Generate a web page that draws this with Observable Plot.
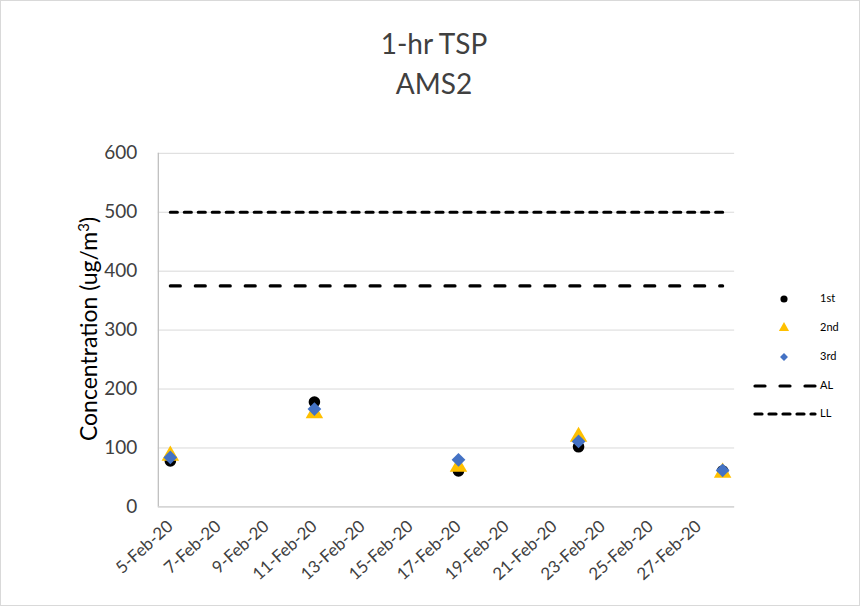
<!DOCTYPE html>
<html>
<head>
<meta charset="utf-8">
<script src="https://cdn.jsdelivr.net/npm/d3@7"></script>
<script src="https://cdn.jsdelivr.net/npm/@observablehq/plot@0.6"></script>
<style>
  html, body { margin: 0; padding: 0; background: #fff; }
  #wrap { position: relative; width: 858px; height: 604px; border: 1px solid #d9d9d9; font-family: Lato, "Open Sans", sans-serif; color: #595959; overflow: hidden; }
  #chart { position: absolute; left: -1px; top: -1px; }
  .title { position: absolute; left: 0; width: 866px; text-align: center; font-size: 28px; color: #404040; line-height: 1; }
  #ylab { position: absolute; left: 87px; top: 328px; transform: translate(-50%, -50%) rotate(-90deg); white-space: nowrap; font-size: 23px; color: #000; }
  #legend { position: absolute; left: 748px; top: 287px; font-size: 11px; color: #000; }
  #legend .row { position: absolute; left: 0; height: 20px; width: 110px; }
  #legend svg { position: absolute; left: 0; top: 0; }
  #legend span { position: absolute; left: 71px; top: 3px; }
</style>
</head>
<body>
<div id="wrap">
  <div id="chart"></div>
  <div class="title" style="top:28px">1-hr TSP</div>
  <div class="title" style="top:68px">AMS2</div>
  <div id="ylab">Concentration (ug/m<sup style="font-size:15px">3</sup>)</div>
  <div id="legend"></div>
</div>
<script>
// ---- data ----
const dates = ["2020-02-05", "2020-02-11", "2020-02-17", "2020-02-22", "2020-02-28"];
const first = [78, 178, 61, 102, 61];
const second = [87, 159, 68, 119, 58];
const third = [84, 166, 80, 111, 62];
const actionLevel = 375;
const limitLevel = 500;
const tickDates = ["2020-02-05","2020-02-07","2020-02-09","2020-02-11","2020-02-13","2020-02-15","2020-02-17","2020-02-19","2020-02-21","2020-02-23","2020-02-25","2020-02-27"];
const yTicks = [0, 100, 200, 300, 400, 500, 600];
const seriesNames = ["1st", "2nd", "3rd", "AL", "LL"];

const parse = s => new Date(s + "T00:00:00Z");
const mk = vals => dates.map((d, i) => ({date: parse(d), value: vals[i]}));
const s1 = mk(first), s2 = mk(second), s3 = mk(third);
const lineData = v => [{date: parse(dates[0]), value: v}, {date: parse(dates[dates.length - 1]), value: v}];
const months = ["Jan","Feb","Mar","Apr","May","Jun","Jul","Aug","Sep","Oct","Nov","Dec"];
const fmt = d => `${d.getUTCDate()}-${months[d.getUTCMonth()]}-${String(d.getUTCFullYear()).slice(2)}`;

const x0 = new Date(Date.UTC(2020, 1, 4, 12));
const x1 = new Date(Date.UTC(2020, 1, 28, 12));

const plot = Plot.plot({
  width: 860,
  height: 606,
  marginLeft: 158,
  marginRight: 125,
  marginTop: 153,
  marginBottom: 99,
  style: {fontFamily: "Lato, 'Open Sans', sans-serif", background: "transparent"},
  x: {type: "utc", domain: [x0, x1]},
  y: {domain: [0, 600]},
  marks: [
    Plot.gridY(yTicks, {stroke: "#d9d9d9", strokeOpacity: 1, strokeWidth: 1}),
    Plot.ruleX([x0], {stroke: "#bfbfbf", strokeWidth: 1.3}),
    Plot.ruleY([0], {stroke: "#d0d0d0", strokeWidth: 1.3}),
    Plot.axisY(yTicks, {tickSize: 0, tickPadding: 21, fontSize: 19, fill: "#404040", label: null}),
    Plot.axisX(tickDates.map(parse), {tickSize: 0, tickPadding: 17, tickRotate: -42, tickFormat: fmt, fontSize: 17, fill: "#404040", label: null}),
    Plot.line(lineData(limitLevel), {x: "date", y: "value", stroke: "#000", strokeWidth: 3.2, strokeDasharray: "7,7", strokeLinecap: "round"}),
    Plot.line(lineData(actionLevel), {x: "date", y: "value", stroke: "#000", strokeWidth: 3.2, strokeDasharray: "10,15", strokeLinecap: "round"}),
    Plot.dot(s1, {x: "date", y: "value", symbol: "circle", r: 5.8, fill: "#000", stroke: "none"}),
    Plot.dot(s2, {x: "date", y: "value", symbol: "triangle", r: 6.5, fill: "#FFC000", stroke: "none"}),
    Plot.dot(s3, {x: "date", y: "value", symbol: "diamond2", r: 6.2, fill: "#4472C4", stroke: "none"})
  ]
});
document.getElementById("chart").appendChild(plot);

// ---- legend ----
const legend = document.getElementById("legend");
const rowsY = [0, 29, 58, 87, 115];
seriesNames.forEach((name, i) => {
  const row = document.createElement("div");
  row.className = "row";
  row.style.top = rowsY[i] + "px";
  const svg = d3.create("svg").attr("width", 70).attr("height", 20);
  const cy = 11;
  if (name === "1st") svg.append("path").attr("transform", `translate(35,${cy})`).attr("d", d3.symbol(d3.symbolCircle, 40)()).attr("fill", "#000");
  if (name === "2nd") svg.append("path").attr("transform", `translate(35,${cy})`).attr("d", d3.symbol(d3.symbolTriangle, 45)()).attr("fill", "#FFC000");
  if (name === "3rd") svg.append("path").attr("transform", `translate(35,${cy})`).attr("d", d3.symbol(d3.symbolDiamond2, 40)()).attr("fill", "#4472C4");
  if (name === "AL") svg.append("line").attr("x1", 6).attr("x2", 66).attr("y1", cy).attr("y2", cy).attr("stroke", "#000").attr("stroke-width", 3.2).attr("stroke-dasharray", "10,15").attr("stroke-linecap", "round");
  if (name === "LL") svg.append("line").attr("x1", 6).attr("x2", 66).attr("y1", cy).attr("y2", cy).attr("stroke", "#000").attr("stroke-width", 3.2).attr("stroke-dasharray", "7,7").attr("stroke-linecap", "round");
  row.appendChild(svg.node());
  const sp = document.createElement("span");
  sp.textContent = name;
  row.appendChild(sp);
  legend.appendChild(row);
});
</script>
</body>
</html>
